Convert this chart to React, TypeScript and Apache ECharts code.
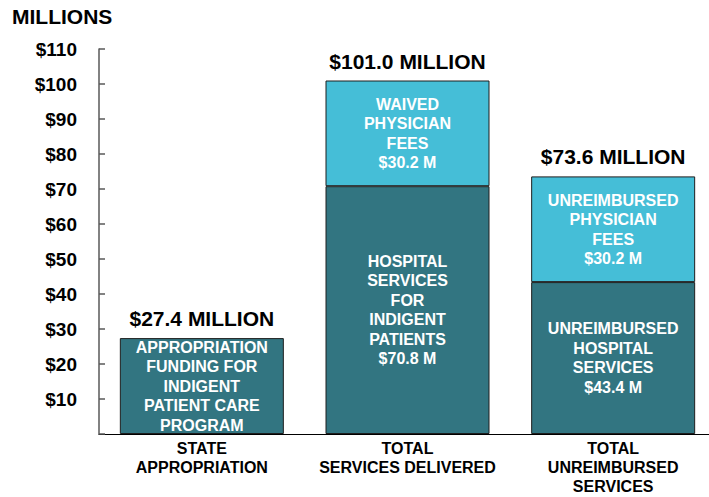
import React, { useEffect, useRef } from "react";
import * as echarts from "echarts";

const categories = ["STATE\nAPPROPRIATION", "TOTAL\nSERVICES DELIVERED", "TOTAL\nUNREIMBURSED\nSERVICES"];
const baseValues = [27.4, 70.8, 43.4];
const topValues: (number | null)[] = [null, 30.2, 30.2];
const totals = [27.4, 101.0, 73.6];
const baseLabels = [
  "APPROPRIATION\nFUNDING FOR\nINDIGENT\nPATIENT CARE\nPROGRAM",
  "HOSPITAL\nSERVICES\nFOR\nINDIGENT\nPATIENTS\n$70.8 M",
  "UNREIMBURSED\nHOSPITAL\nSERVICES\n$43.4 M",
];
const topLabels = ["", "WAIVED\nPHYSICIAN\nFEES\n$30.2 M", "UNREIMBURSED\nPHYSICIAN\nFEES\n$30.2 M"];
const totalLabels = ["$27.4 MILLION", "$101.0 MILLION", "$73.6 MILLION"];

const FONT = "'Liberation Sans', Arial, sans-serif";
const DARK = "#327581";
const LIGHT = "#45bed7";

export default function App() {
  const ref = useRef<HTMLDivElement>(null);
  useEffect(() => {
    document.body.style.margin = "0";
    const chart = echarts.init(ref.current!, null, { renderer: "svg" });
    const insideLabel = {
      show: true,
      position: "inside",
      color: "#ffffff",
      fontFamily: FONT,
      fontWeight: "bold",
      fontSize: 16,
      lineHeight: 19.5,
      textBorderWidth: 0,
    };
    chart.setOption({
      animation: false,
      backgroundColor: "#ffffff",
      graphic: [
        {
          type: "text",
          left: 12,
          top: 6,
          style: { text: "MILLIONS", font: `bold 21px ${FONT}`, fill: "#000" },
        },
      ],
      grid: { left: 99, top: 49, width: 617, height: 385 },
      xAxis: {
        type: "category",
        data: categories,
        axisLine: { lineStyle: { color: "#000", width: 1 } },
        axisTick: { show: false },
        axisLabel: {
          interval: 0,
          margin: 5,
          color: "#000",
          fontFamily: FONT,
          fontWeight: "bold",
          fontSize: 16,
          lineHeight: 19,
        },
      },
      yAxis: {
        type: "value",
        min: 0,
        max: 110,
        interval: 10,
        axisLine: { show: true, lineStyle: { color: "#595959", width: 1.5 } },
        axisTick: { show: true, inside: true, length: 6, lineStyle: { color: "#595959", width: 1.5 } },
        splitLine: { show: false },
        axisLabel: {
          margin: 22,
          color: "#000",
          fontFamily: FONT,
          fontWeight: "bold",
          fontSize: 19,
          formatter: (v: number) => (v === 0 ? "" : "$" + v),
        },
      },
      series: [
        {
          type: "bar",
          stack: "s",
          barWidth: 164,
          data: baseValues,
          itemStyle: { color: DARK, borderColor: "#1e1e1e", borderWidth: 1 },
          label: { ...insideLabel, formatter: (p: any) => baseLabels[p.dataIndex] },
        },
        {
          type: "bar",
          stack: "s",
          barWidth: 164,
          data: topValues,
          itemStyle: { color: LIGHT, borderColor: "#1e1e1e", borderWidth: 1 },
          label: { ...insideLabel, formatter: (p: any) => topLabels[p.dataIndex] },
        },
        {
          type: "scatter",
          data: totals,
          symbolSize: 0,
          itemStyle: { color: "rgba(0,0,0,0)", opacity: 1 },
          label: {
            show: true,
            position: "top",
            distance: 9,
            color: "#000000",
            opacity: 1,
            textBorderWidth: 0,
            fontFamily: FONT,
            fontWeight: "bold",
            fontSize: 21,
            formatter: (p: any) => totalLabels[p.dataIndex],
          },
        },
      ],
    });
    return () => chart.dispose();
  }, []);
  return (
    <div style={{ width: 709, height: 497, overflow: "hidden", position: "relative" }}>
      <div ref={ref} style={{ width: 730, height: 497 }} />
    </div>
  );
}
